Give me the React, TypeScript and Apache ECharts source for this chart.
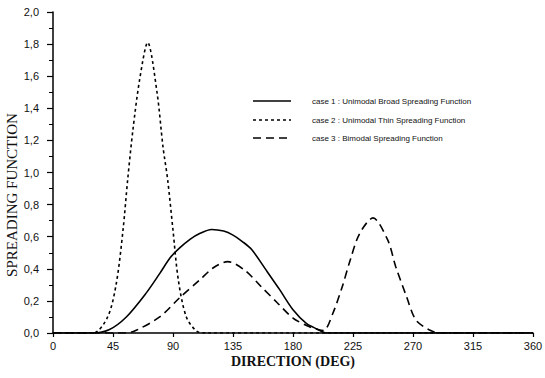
import React, { useEffect, useRef } from "react";
import * as echarts from "echarts";

const xTicks = [0, 45, 90, 135, 180, 225, 270, 315, 360];

const case1Dir = [0, 30, 42, 55, 70, 80, 88, 95, 103, 110, 119, 128, 135, 142, 149, 160, 170, 180, 190, 198, 205, 360];
const case1Val = [0, 0, 0.02, 0.1, 0.25, 0.37, 0.47, 0.53, 0.585, 0.62, 0.645, 0.635, 0.61, 0.57, 0.52, 0.39, 0.27, 0.145, 0.06, 0.025, 0, 0];

const case2Dir = [0, 30, 41, 47.5, 52.5, 56, 60, 65, 71, 78, 82.5, 86, 90, 94, 100, 108, 115, 360];
const case2Val = [0, 0, 0.1, 0.31, 0.64, 0.955, 1.27, 1.58, 1.81, 1.5, 1.16, 0.955, 0.64, 0.33, 0.1, 0.01, 0, 0];

const case3Dir = [0, 55, 62, 80, 95, 110, 120, 131, 144, 156, 168, 180, 192, 199, 203, 210, 217, 223, 230, 240, 251, 257, 265, 272, 282, 290, 360];
const case3Val = [0, 0, 0.015, 0.1, 0.22, 0.33, 0.405, 0.445, 0.39, 0.29, 0.19, 0.093, 0.04, 0.02, 0.015, 0.125, 0.29, 0.457, 0.62, 0.717, 0.58, 0.415, 0.23, 0.083, 0.02, 0, 0];

const seriesNames = [
  "case 1 : Unimodal Broad Spreading Function",
  "case 2 : Unimodal Thin Spreading Function",
  "case 3 : Bimodal Spreading Function",
];
const xAxisName = "DIRECTION (DEG)";
const yAxisName = "SPREADING FUNCTION";

const pairs = (xs: number[], ys: number[]) => xs.map((x, i) => [x, ys[i]]);

export default function App() {
  const ref = useRef<HTMLDivElement>(null);
  useEffect(() => {
    if (!ref.current) return;
    const chart = echarts.init(ref.current, undefined, { renderer: "svg" });
    const sans = "Liberation Sans, Arial, sans-serif";
    const serif = "Liberation Serif, Times New Roman, serif";
    const dashes: any[] = ["solid", [3, 3], [8, 5]];
    const mk = (name: string, data: number[][], type: any, width: number) => ({
      name,
      type: "line",
      data,
      smooth: 0.3,
      symbol: "none",
      lineStyle: { color: "#000", width, type },
      itemStyle: { color: "#000" },
    });
    const legendY = [101, 120, 138];
    const graphics: any[] = [];
    seriesNames.forEach((n, i) => {
      graphics.push({
        type: "line",
        shape: { x1: 253, y1: legendY[i], x2: 291, y2: legendY[i] },
        style: {
          stroke: "#000",
          lineWidth: 1.5,
          lineDash: dashes[i] === "solid" ? null : dashes[i],
        },
      });
      graphics.push({
        type: "text",
        x: 312,
        y: legendY[i],
        style: {
          text: n,
          fontFamily: sans,
          fontSize: 8,
          fill: "#111",
          verticalAlign: "middle",
          align: "left",
        },
      });
    });
    graphics.push({
      type: "text",
      x: 12,
      y: 195,
      rotation: Math.PI / 2,
      style: {
        text: yAxisName,
        fontFamily: serif,
        fontSize: 15,
        fill: "#111",
        align: "center",
        verticalAlign: "middle",
      },
    });
    chart.setOption({
      animation: false,
      backgroundColor: "#fff",
      grid: { left: 53, right: 12, top: 12, bottom: 45, containLabel: false, outerBoundsMode: "none" },
      graphic: graphics,
      xAxis: {
        type: "value",
        min: 0,
        max: 360,
        interval: 45,
        name: xAxisName,
        nameLocation: "middle",
        nameGap: 21,
        nameMoveOverlap: false,
        nameTextStyle: { fontFamily: serif, fontSize: 14, fontWeight: "bold", color: "#111" },
        axisLine: { lineStyle: { color: "#000", width: 1.5 } },
        axisTick: { show: true, inside: false, length: 4, lineStyle: { color: "#000", width: 1.2 } },
        axisLabel: { fontFamily: sans, fontSize: 11, color: "#111", margin: 7 },
        splitLine: { show: false },
      },
      yAxis: {
        type: "value",
        min: 0,
        max: 2,
        interval: 0.2,
        axisLine: { show: true, lineStyle: { color: "#000", width: 1.5 } },
        axisTick: { show: true, length: 6, lineStyle: { color: "#000", width: 1.2 } },
        minorTick: { show: true, splitNumber: 2, length: 4, lineStyle: { color: "#000", width: 1 } },
        axisLabel: {
          fontFamily: sans,
          fontSize: 11,
          color: "#111",
          margin: 14,
          formatter: (v: number) => v.toFixed(1).replace(".", ","),
        },
        splitLine: { show: false },
      },
      series: [
        mk(seriesNames[0], pairs(case1Dir, case1Val), dashes[0], 1.6),
        mk(seriesNames[1], pairs(case2Dir, case2Val), dashes[1], 1.6),
        mk(seriesNames[2], pairs(case3Dir, case3Val), dashes[2], 1.6),
      ],
    });
    return () => chart.dispose();
  }, []);
  return (
    <div
      ref={ref}
      style={{ position: "fixed", left: 0, top: 0, width: 545, height: 378 }}
    />
  );
}
